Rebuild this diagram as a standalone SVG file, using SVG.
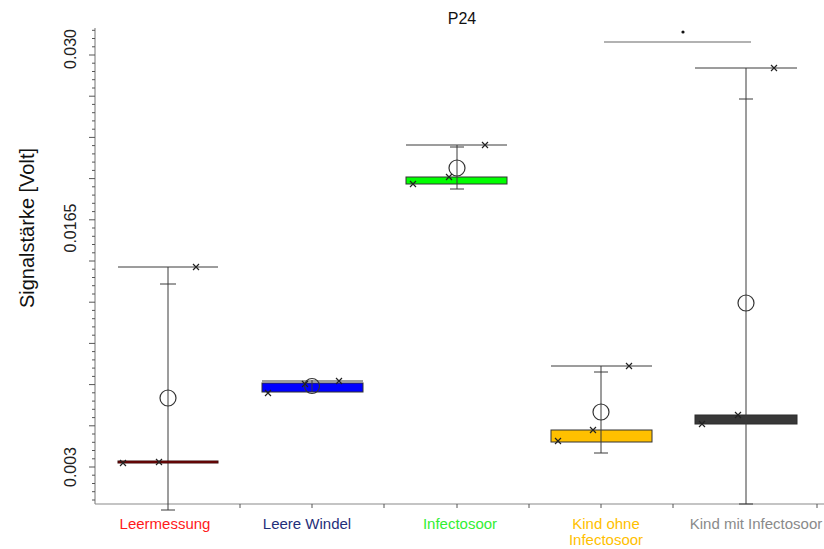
<svg xmlns="http://www.w3.org/2000/svg" xmlns:xlink="http://www.w3.org/1999/xlink" width="824" height="549" viewBox="0 0 824 549">
<style>
.ln{stroke:#3a3a3a;stroke-width:1;fill:none}
.ax{stroke:#8a8a8a;stroke-width:1.2;fill:none}
.tk{stroke:#555;stroke-width:1}
.mean{fill:none;stroke:#333;stroke-width:1.2}
.box{stroke:#333;stroke-width:1}
.lbl{font-family:"Liberation Sans",Arial,sans-serif;font-size:15px;text-anchor:middle}
.ytl{font-family:"Liberation Sans",Arial,sans-serif;font-size:16px;fill:#222;text-anchor:middle}
</style>
<defs>
<path id="xm" d="M-3,-3L3,3M-3,3L3,-3" stroke="#222" stroke-width="1.2" fill="none"/>
</defs>
<rect width="824" height="549" fill="#fff"/>
<text x="462" y="24" font-family="'Liberation Sans',Arial,sans-serif" font-size="16" text-anchor="middle" fill="#111">P24</text>
<g id="yaxis">
<line class="ax" x1="95" y1="28" x2="95" y2="504"/>
<g class="tk">
<line x1="92" y1="30.3" x2="95" y2="30.3"/><line x1="92" y1="38.5" x2="95" y2="38.5"/><line x1="92" y1="46.8" x2="95" y2="46.8"/>
<line x1="89" y1="55" x2="95" y2="55"/><line x1="92" y1="63.2" x2="95" y2="63.2"/><line x1="92" y1="71.5" x2="95" y2="71.5"/><line x1="92" y1="79.7" x2="95" y2="79.7"/><line x1="92" y1="88" x2="95" y2="88"/>
<line x1="89" y1="96.2" x2="95" y2="96.2"/><line x1="92" y1="104.4" x2="95" y2="104.4"/><line x1="92" y1="112.7" x2="95" y2="112.7"/><line x1="92" y1="120.9" x2="95" y2="120.9"/><line x1="92" y1="129.2" x2="95" y2="129.2"/>
<line x1="89" y1="137.4" x2="95" y2="137.4"/><line x1="92" y1="145.6" x2="95" y2="145.6"/><line x1="92" y1="153.9" x2="95" y2="153.9"/><line x1="92" y1="162.1" x2="95" y2="162.1"/><line x1="92" y1="170.4" x2="95" y2="170.4"/>
<line x1="89" y1="178.6" x2="95" y2="178.6"/><line x1="92" y1="186.8" x2="95" y2="186.8"/><line x1="92" y1="195.1" x2="95" y2="195.1"/><line x1="92" y1="203.3" x2="95" y2="203.3"/><line x1="92" y1="211.6" x2="95" y2="211.6"/>
<line x1="89" y1="219.8" x2="95" y2="219.8"/><line x1="92" y1="228" x2="95" y2="228"/><line x1="92" y1="236.3" x2="95" y2="236.3"/><line x1="92" y1="244.5" x2="95" y2="244.5"/><line x1="92" y1="252.8" x2="95" y2="252.8"/>
<line x1="89" y1="261" x2="95" y2="261"/><line x1="92" y1="269.2" x2="95" y2="269.2"/><line x1="92" y1="277.5" x2="95" y2="277.5"/><line x1="92" y1="285.7" x2="95" y2="285.7"/><line x1="92" y1="294" x2="95" y2="294"/>
<line x1="89" y1="302.2" x2="95" y2="302.2"/><line x1="92" y1="310.4" x2="95" y2="310.4"/><line x1="92" y1="318.7" x2="95" y2="318.7"/><line x1="92" y1="326.9" x2="95" y2="326.9"/><line x1="92" y1="335.2" x2="95" y2="335.2"/>
<line x1="89" y1="343.4" x2="95" y2="343.4"/><line x1="92" y1="351.6" x2="95" y2="351.6"/><line x1="92" y1="359.9" x2="95" y2="359.9"/><line x1="92" y1="368.1" x2="95" y2="368.1"/><line x1="92" y1="376.4" x2="95" y2="376.4"/>
<line x1="89" y1="384.6" x2="95" y2="384.6"/><line x1="92" y1="392.8" x2="95" y2="392.8"/><line x1="92" y1="401.1" x2="95" y2="401.1"/><line x1="92" y1="409.3" x2="95" y2="409.3"/><line x1="92" y1="417.6" x2="95" y2="417.6"/>
<line x1="89" y1="425.8" x2="95" y2="425.8"/><line x1="92" y1="434" x2="95" y2="434"/><line x1="92" y1="442.3" x2="95" y2="442.3"/><line x1="92" y1="450.5" x2="95" y2="450.5"/><line x1="92" y1="458.8" x2="95" y2="458.8"/>
<line x1="89" y1="467" x2="95" y2="467"/><line x1="92" y1="475.2" x2="95" y2="475.2"/><line x1="92" y1="483.5" x2="95" y2="483.5"/><line x1="92" y1="491.7" x2="95" y2="491.7"/><line x1="92" y1="500" x2="95" y2="500"/>
</g>
<text class="ytl" transform="translate(76,49) rotate(-90)">0.030</text>
<text class="ytl" transform="translate(76,228) rotate(-90)">0.0165</text>
<text class="ytl" transform="translate(76,467) rotate(-90)">0.003</text>
<text transform="translate(34,228) rotate(-90)" font-family="'Liberation Sans',Arial,sans-serif" font-size="20" text-anchor="middle" fill="#111">Signalstärke [Volt]</text>
</g>
<g id="xaxis">
<line class="ax" x1="95" y1="504" x2="824" y2="504"/>
<g class="tk">
<line x1="240" y1="504" x2="240" y2="508"/><line x1="312" y1="504" x2="312" y2="508"/><line x1="384" y1="504" x2="384" y2="508"/><line x1="457" y1="504" x2="457" y2="508"/><line x1="529" y1="504" x2="529" y2="508"/><line x1="601" y1="504" x2="601" y2="508"/><line x1="673" y1="504" x2="673" y2="508"/><line x1="817" y1="504" x2="817" y2="508"/>
</g>
<text class="lbl" x="165" y="529" fill="#ff1a1a">Leermessung</text>
<text class="lbl" x="307" y="529" fill="#1f2f7a">Leere Windel</text>
<text class="lbl" x="460" y="529" fill="#33ee33">Infectosoor</text>
<text class="lbl" x="606" y="529" fill="#ffc000">Kind ohne</text>
<text class="lbl" x="606" y="545" fill="#ffc000">Infectosoor</text>
<text class="lbl" x="756" y="529" fill="#8a8a8a">Kind mit Infectosoor</text>
</g>
<g id="leermessung">
<line class="ln" x1="118" y1="267" x2="218" y2="267"/>
<line class="ln" x1="168" y1="267" x2="168" y2="510"/>
<line class="ln" x1="160" y1="284" x2="176" y2="284"/>
<line class="ln" x1="161" y1="510" x2="175" y2="510"/>
<rect x="118" y="461" width="100" height="2" fill="#8b0000" stroke="#3a0a0a" stroke-width="1"/>
<circle class="mean" cx="168" cy="398" r="8"/>
<use xlink:href="#xm" x="123" y="463"/><use xlink:href="#xm" x="159" y="462"/><use xlink:href="#xm" x="196" y="267"/>
</g>
<g id="leere-windel">
<line class="ln" x1="262" y1="381" x2="363" y2="381"/>
<rect class="box" x="262" y="383" width="101" height="9" fill="#0000ff"/>
<line class="ln" x1="312" y1="380" x2="312" y2="392"/>
<circle class="mean" cx="312" cy="386" r="7.5"/>
<use xlink:href="#xm" x="268" y="393"/><use xlink:href="#xm" x="339" y="381"/><use xlink:href="#xm" x="305" y="384"/>
</g>
<g id="infectosoor">
<line class="ln" x1="406" y1="145" x2="507" y2="145"/>
<rect class="box" x="406" y="177" width="101" height="7" fill="#00ff00"/>
<line class="ln" x1="457" y1="145" x2="457" y2="189"/>
<line class="ln" x1="450" y1="147" x2="464" y2="147"/>
<line class="ln" x1="450" y1="189" x2="464" y2="189"/>
<circle class="mean" cx="457" cy="168" r="8"/>
<use xlink:href="#xm" x="485" y="145"/><use xlink:href="#xm" x="449" y="177"/><use xlink:href="#xm" x="413" y="184"/>
</g>
<g id="kind-ohne">
<line class="ln" x1="551" y1="366" x2="652" y2="366"/>
<rect class="box" x="551" y="430" width="101" height="12" fill="#ffc000"/>
<line class="ln" x1="601" y1="366" x2="601" y2="453"/>
<line class="ln" x1="594" y1="372" x2="608" y2="372"/>
<line class="ln" x1="594" y1="453" x2="608" y2="453"/>
<circle class="mean" cx="601" cy="412" r="8"/>
<use xlink:href="#xm" x="629" y="366"/><use xlink:href="#xm" x="593" y="430"/><use xlink:href="#xm" x="558" y="441"/>
</g>
<g id="kind-mit">
<line class="ln" x1="695" y1="68" x2="797" y2="68"/>
<rect x="695" y="415" width="102" height="9" fill="#383838" stroke="#2a2a2a" stroke-width="1"/>
<line class="ln" x1="746" y1="68" x2="746" y2="504"/>
<line class="ln" x1="739" y1="99" x2="753" y2="99"/>
<line class="ln" x1="739" y1="504" x2="753" y2="504"/>
<circle class="mean" cx="746" cy="303" r="8"/>
<use xlink:href="#xm" x="774" y="68"/><use xlink:href="#xm" x="738" y="415"/><use xlink:href="#xm" x="702" y="424"/>
</g>
<g id="connectors">
<line x1="604" y1="42" x2="751" y2="42" stroke="#999" stroke-width="1.5"/>
<circle cx="683" cy="32" r="1.6" fill="#111"/>
</g>
</svg>
